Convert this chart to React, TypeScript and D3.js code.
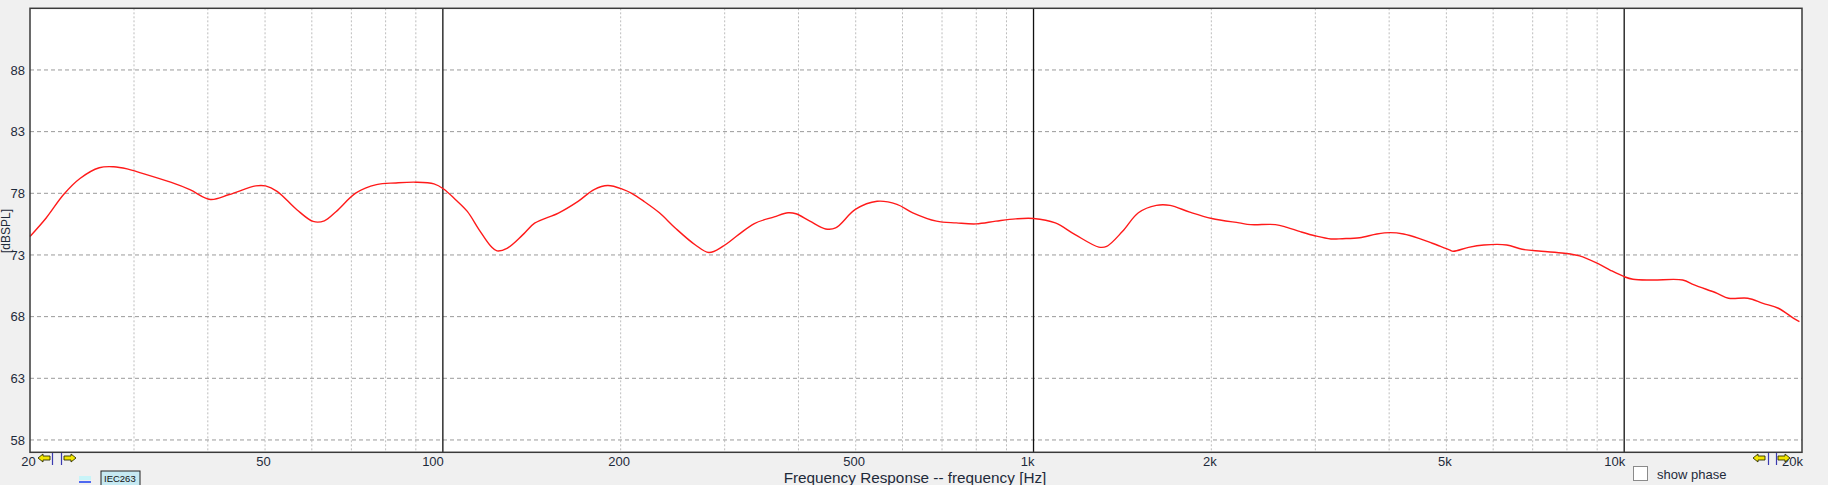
import React from "react";
import * as d3 from "d3";

const freqs = [20, 21.3, 22.8, 24.3, 26.2, 27.7, 29.2, 30.6, 34.6, 37.3, 40.4, 43.5, 48.2, 50.1, 52.4, 56.6, 60.3, 63.0, 66.0, 71.3, 77.2, 83.3, 90.0, 96.6, 100.3, 105.1, 110, 115.2, 120.7, 123.5, 128.4, 136.5, 143, 156.9, 169.4, 180.3, 190.2, 202.3, 208.8, 218.7, 232.6, 247.4, 267.3, 282.1, 297.7, 316.7, 336.8, 363.9, 384.1, 396.1, 418.2, 444.7, 462.3, 499.3, 543.5, 587.2, 624.6, 685.1, 740.2, 799.5, 863.6, 933, 1000, 1088.6, 1176, 1290, 1330, 1415, 1505, 1614, 1703, 1839, 2003, 2229, 2331, 2568, 2685, 2829, 3003, 3188, 3333, 3565, 3813, 4016, 4231, 4492, 4732, 5059, 5136, 5451, 5786, 6327, 6719, 7238, 7915, 8401, 9050, 9463, 10000, 10349, 11150, 12560, 13140, 14370, 15020, 16190, 17180, 18240, 19360, 19800];
const spl = [74.5, 76.0, 77.9, 79.2, 80.07, 80.15, 79.98, 79.7, 78.9, 78.3, 77.5, 77.9, 78.6, 78.6, 78.16, 76.67, 75.72, 75.77, 76.53, 78.03, 78.7, 78.84, 78.9, 78.76, 78.35, 77.48, 76.53, 75.04, 73.68, 73.33, 73.54, 74.63, 75.58, 76.4, 77.35, 78.3, 78.63, 78.3, 78.0, 77.37, 76.42, 75.19, 73.83, 73.2, 73.69, 74.65, 75.55, 76.09, 76.42, 76.34, 75.74, 75.11, 75.19, 76.69, 77.35, 77.1, 76.42, 75.74, 75.6, 75.52, 75.74, 75.93, 75.96, 75.6, 74.65, 73.64, 73.7, 74.92, 76.42, 77.02, 77.02, 76.47, 75.96, 75.6, 75.46, 75.46, 75.24, 74.89, 74.54, 74.3, 74.32, 74.4, 74.7, 74.81, 74.7, 74.35, 73.95, 73.41, 73.3, 73.62, 73.81, 73.81, 73.46, 73.3, 73.14, 72.92, 72.27, 71.78, 71.24, 71.03, 70.97, 70.97, 70.57, 69.89, 69.49, 69.49, 69.08, 68.68, 67.86, 67.59];

const yTicks = [58, 63, 68, 73, 78, 83, 88];
const minorGrid = [30, 40, 50, 60, 70, 80, 90, 200, 300, 400, 500, 600, 700, 800, 900, 2000, 3000, 4000, 5000, 6000, 7000, 8000, 9000];
const decadeLines = [100, 1000, 10000];
const xTickValues = [20, 50, 100, 200, 500, 1000, 2000, 5000, 10000, 20000];
const xTickLabels = ["20", "50", "100", "200", "500", "1k", "2k", "5k", "10k", "20k"];
const decadeLabelAnchorEnd = ["100", "1k", "10k", "20k"];
const xTitle = "Frequency Response -- frequency [Hz]";
const yTitle = "[dBSPL]";

const W = 1828, H = 485;
const L = 30, R = 1802, T = 8.3, B = 452.3;
const FONT = "'Liberation Sans', Arial, sans-serif";

function ArrowLeft({ x, y }: { x: number; y: number }) {
  const p = `M${x},${y} L${x + 5},${y - 4} L${x + 5},${y - 2} L${x + 12},${y - 2} L${x + 12},${y + 2} L${x + 5},${y + 2} L${x + 5},${y + 4} Z`;
  return <path d={p} fill="#f2e600" stroke="#303000" strokeWidth={0.9} />;
}
function ArrowRight({ x, y }: { x: number; y: number }) {
  const p = `M${x + 12},${y} L${x + 7},${y - 4} L${x + 7},${y - 2} L${x},${y - 2} L${x},${y + 2} L${x + 7},${y + 2} L${x + 7},${y + 4} Z`;
  return <path d={p} fill="#f2e600" stroke="#303000" strokeWidth={0.9} />;
}

export default function App() {
  const x = d3.scaleLog().domain([20, 20000]).range([L, R]);
  const y = d3.scaleLinear().domain([57, 93]).range([B, T]);
  const pts: [number, number][] = freqs.map((f, i) => [f, spl[i]]);
  const line = d3
    .line<[number, number]>()
    .x((d) => x(d[0]))
    .y((d) => y(d[1]))
    .curve(d3.curveCatmullRom.alpha(0.5));

  return (
    <svg
      width={W}
      height={H}
      style={{ position: "absolute", left: 0, top: 0, display: "block" }}
      fontFamily={FONT}
    >
      <rect x={0} y={0} width={W} height={H} fill="#f0f0f0" />
      <rect x={L} y={T} width={R - L} height={B - T} fill="#ffffff" />

      {minorGrid.map((f) => (
        <line key={"v" + f} x1={x(f)} x2={x(f)} y1={T} y2={B} stroke="#bdbdbd" strokeWidth={1} strokeDasharray="2,2" />
      ))}
      {yTicks.map((v) => (
        <line key={"h" + v} x1={L} x2={R} y1={y(v)} y2={y(v)} stroke="#9a9a9a" strokeWidth={1} strokeDasharray="4,3" />
      ))}
      {decadeLines.map((f) => (
        <line key={"d" + f} x1={x(f)} x2={x(f)} y1={T} y2={B} stroke="#111" strokeWidth={1.3} />
      ))}

      <path d={line(pts) || ""} fill="none" stroke="#ff1a1a" strokeWidth={1.4} />

      <rect x={L} y={T} width={R - L} height={B - T} fill="none" stroke="#3a3a3a" strokeWidth={1.5} />

      {yTicks.map((v) => (
        <text key={"yl" + v} x={25} y={y(v)} dy="0.35em" textAnchor="end" fontSize={13} fill="#1e2a3a">
          {v}
        </text>
      ))}
      {xTickValues.map((f, i) => {
        const lab = xTickLabels[i];
        const end = decadeLabelAnchorEnd.includes(lab);
        return (
          <text key={"xl" + f} x={x(f) + (end ? 1 : -1.5)} y={466} textAnchor={end ? "end" : "middle"} fontSize={13} fill="#1e2a3a">
            {lab}
          </text>
        );
      })}

      <text x={915} y={483} textAnchor="middle" fontSize={15.3} fill="#1e2a3a">
        {xTitle}
      </text>
      <text transform="translate(10,231) rotate(-90)" textAnchor="middle" fontSize={12} fill="#1e2a3a">
        {yTitle}
      </text>

      {/* range markers */}
      <ArrowLeft x={38} y={458} />
      <line x1={52.5} x2={52.5} y1={453} y2={465} stroke="#3a3ab0" strokeWidth={1.2} />
      <line x1={61.5} x2={61.5} y1={453} y2={465} stroke="#3a3ab0" strokeWidth={1.2} />
      <ArrowRight x={64} y={458} />
      <ArrowLeft x={1753} y={458} />
      <line x1={1768.5} x2={1768.5} y1={453} y2={465} stroke="#3a3ab0" strokeWidth={1.2} />
      <line x1={1776.5} x2={1776.5} y1={453} y2={465} stroke="#3a3ab0" strokeWidth={1.2} />
      <ArrowRight x={1778} y={458} />

      {/* legend */}
      <rect x={79} y={476} width={12} height={4} fill="#c8f4f8" />
      <line x1={79} x2={91} y1={482} y2={482} stroke="#1a3cf0" strokeWidth={1.5} />
      <rect x={101} y={471} width={39} height={20} fill="#c6e9f2" stroke="#222" strokeWidth={1} />
      <text x={104} y={482} fontSize={9.5} fill="#111">IEC263</text>

      {/* show phase checkbox */}
      <rect x={1633.5} y={466.5} width={14} height={14} fill="#ffffff" stroke="#8a8a8a" strokeWidth={1} />
      <text x={1657} y={479} fontSize={13} fill="#1e2a3a">show phase</text>
    </svg>
  );
}
